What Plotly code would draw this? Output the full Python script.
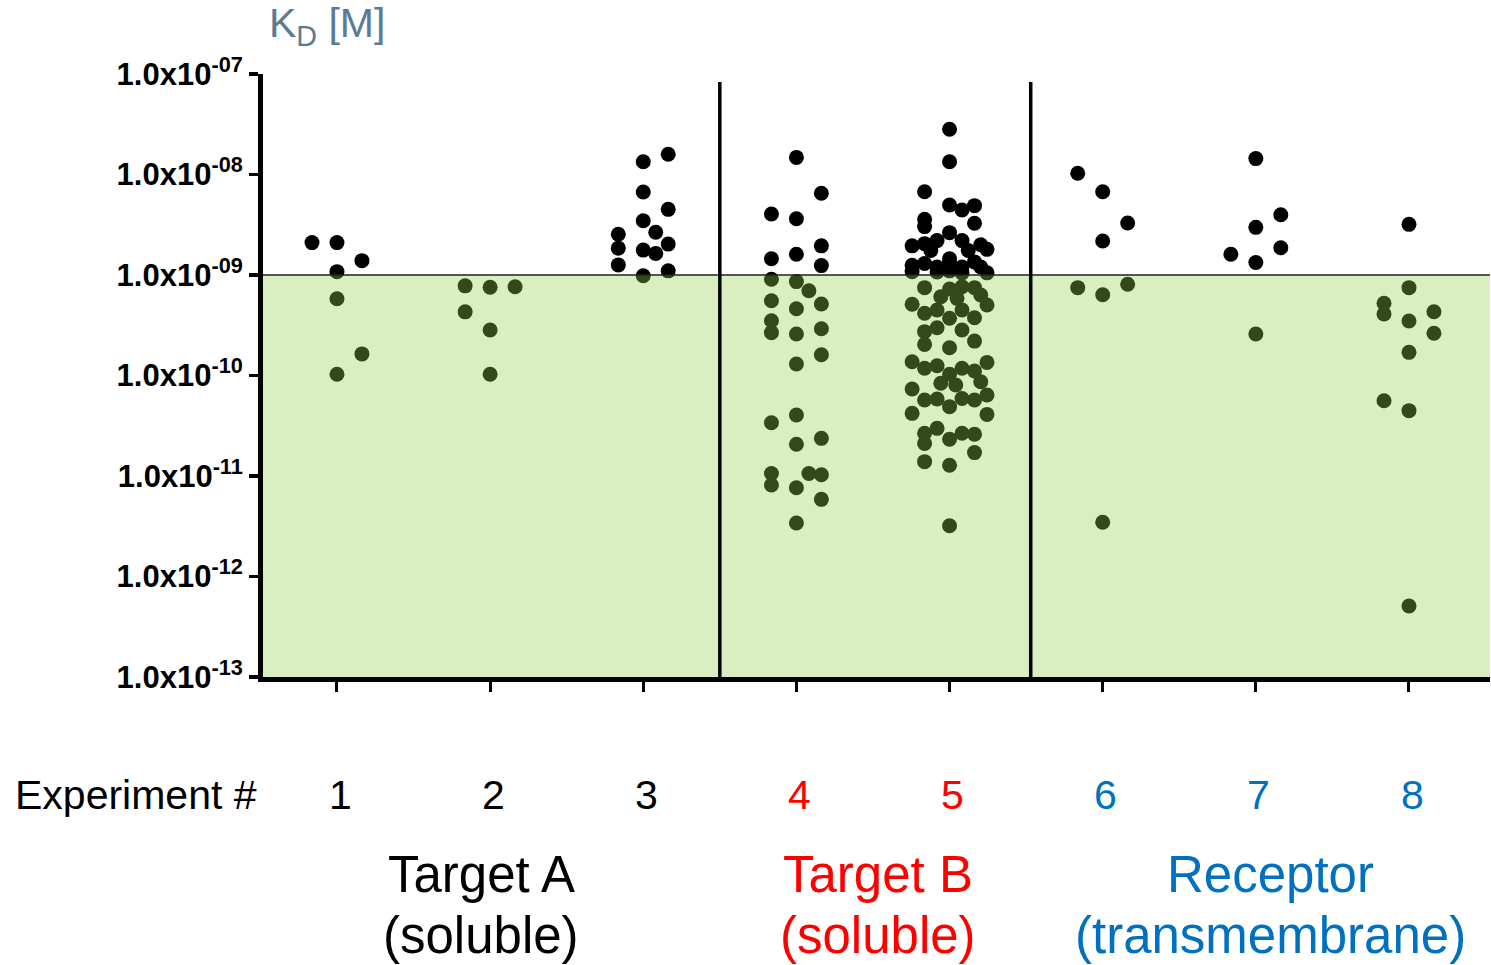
import plotly.graph_objects as go

# ---------------- data ----------------
experiments = [1, 2, 3, 4, 5, 6, 7, 8]
exp_labels = ["1", "2", "3", "4", "5", "6", "7", "8"]
exp_colors = ["black", "black", "black", "#ff0000", "#ff0000", "#0070c0", "#0070c0", "#0070c0"]

group_names = ["Target A", "Target B", "Receptor"]
group_subs = ["(soluble)", "(soluble)", "(transmembrane)"]
group_colors = ["black", "#ff0000", "#0070c0"]

ytick_vals = [1e-7, 1e-8, 1e-9, 1e-10, 1e-11, 1e-12, 1e-13]
ytick_text = ["1.0x10<sup>-07</sup>", "1.0x10<sup>-08</sup>", "1.0x10<sup>-09</sup>",
              "1.0x10<sup>-10</sup>", "1.0x10<sup>-11</sup>", "1.0x10<sup>-12</sup>",
              "1.0x10<sup>-13</sup>"]
y_min_exp, y_max_exp = -13, -7
threshold_exp = -9          # K_D = 1e-9 M

# K_D values [M] per experiment and the swarm column of each point (in dot widths)
kd_1 = [2.1e-9, 2.1e-9, 1.39e-9, 1.08e-9, 5.8e-10, 1.64e-10, 1.03e-10]
col_1 = [-1, 0, 1, 0, 0, 1, 0]

kd_2 = [7.8e-10, 7.55e-10, 7.65e-10, 4.3e-10, 2.84e-10, 1.03e-10]
col_2 = [-1, 0, 1, -1, 0, 0]

kd_3 = [1.34e-8, 1.59e-8, 6.7e-9, 4.5e-9, 3.47e-9, 2.66e-9, 2.54e-9, 1.85e-9,
        1.77e-9, 1.64e-9, 2.03e-9, 1.26e-9, 1.10e-9, 9.84e-10]
col_3 = [0, 1, 0, 1, 0, 0.5, -1, -1, 0, 0.5, 1, -1, 1, 0]

kd_4 = [1.48e-8, 6.5e-9, 4.05e-9, 3.63e-9, 1.95e-9, 1.61e-9, 1.45e-9, 1.24e-9,
        9.06e-10, 8.6e-10, 6.98e-10, 5.55e-10, 4.62e-10, 5.14e-10, 3.51e-10,
        2.67e-10, 2.59e-10, 2.92e-10, 1.30e-10, 1.61e-10, 4.05e-11, 3.39e-11,
        2.07e-11, 2.37e-11, 1.06e-11, 8.13e-12, 1.06e-11, 1.03e-11, 7.65e-12,
        5.86e-12, 3.41e-12]
col_4 = [0, 1, -1, 0, 1, 0, -1, 1,
         -1, 0, 0.5, -1, 0, 1, -1,
         -1, 0, 1, 0, 1, 0, -1,
         0, 1, -1, -1, 0.5, 1, 0,
         1, 0]

kd_5 = [2.82e-8, 1.34e-8, 6.74e-9, 4.97e-9, 4.43e-9, 4.9e-9, 3.58e-9, 3.03e-9,
        3.27e-9, 2.64e-9, 2.2e-9, 2.2e-9, 1.95e-9, 2.05e-9, 2.0e-9, 1.8e-9,
        1.75e-9, 1.75e-9, 1.45e-9, 1.3e-9, 1.25e-9, 1.2e-9, 1.2e-9, 1.35e-9,
        1.2e-9, 1.08e-9, 1.07e-9, 1.1e-9, 1.05e-9, 1.05e-9, 1.3e-9,
        7.48e-10, 7.26e-10, 7.65e-10, 7.48e-10, 6.08e-10, 5.86e-10, 6.33e-10,
        5.11e-10, 4.16e-10, 4.49e-10, 4.49e-10, 5.03e-10, 3.71e-10, 3.76e-10,
        2.73e-10, 2.99e-10, 2.84e-10, 2.2e-10, 2.04e-10, 1.89e-10, 1.37e-10,
        1.18e-10, 1.25e-10, 1.03e-10, 1.18e-10, 1.11e-10, 1.35e-10, 8.36e-11,
        8.04e-11, 8.67e-11, 7.34e-11, 5.7e-11, 5.83e-11, 4.9e-11, 5.9e-11,
        5.7e-11, 6.4e-11, 4.2e-11, 4.1e-11, 2.66e-11, 2.98e-11, 2.11e-11,
        2.32e-11, 2.66e-11, 2.6e-11, 1.71e-11, 1.39e-11, 1.28e-11, 3.2e-12]
col_5 = [0, 0, -1, 0, 0.5, 1, -1, -1,
         1, 0, -0.5, 0.5, -1.5, -1, 1.25, 1.5,
         -0.75, 0.75, 0, -1, -1.5, -0.5, 0.5, 1,
         1.25, -1.5, -0.5, 0, 0.5, 1.5, 0,
         -1, 0, 0.5, 1, -0.35, 0.3, 1.25,
         -1.5, -1, -0.5, 0.5, 1.5, 0, 1,
         -1, -0.5, 0.5, 1, -1, 0, -1.5,
         -1, -0.5, 0, 0.5, 1, 1.5, -0.35,
         0.25, 1.25, -1.5, -1, -0.5, 0, 0.5,
         1, 1.5, -1.5, 1.5, -1, -0.5, -1,
         0, 0.5, 1, 1, -1, 0, 0]

kd_6 = [1.03e-8, 6.74e-9, 3.29e-9, 2.18e-9, 7.48e-10, 6.37e-10, 8.08e-10, 3.46e-12]
col_6 = [-1, 0, 1, 0, -1, 0, 1, 0]

kd_7 = [1.44e-8, 3.98e-9, 2.98e-9, 1.87e-9, 1.61e-9, 1.33e-9, 2.59e-10]
col_7 = [0, 1, 0, 1, -1, 0, 0]

kd_8 = [3.19e-9, 7.48e-10, 5.23e-10, 4.09e-10, 4.31e-10, 3.49e-10, 2.63e-10,
        1.70e-10, 5.61e-11, 4.47e-11, 5.08e-13]
col_8 = [0, 0, -1, -1, 1, 0, 1, 0, -1, 0, 0]

kd_all = [kd_1, kd_2, kd_3, kd_4, kd_5, kd_6, kd_7, kd_8]
col_all = [col_1, col_2, col_3, col_4, col_5, col_6, col_7, col_8]

# ---------------- styling constants ----------------
DOT = 15                 # marker diameter in px
COL_STEP = 0.163         # one dot width in x data units
FONT = "Liberation Sans, Arial, sans-serif"
group_x = [1.943, 4.531, 7.097]
separators = [3.5, 5.53]
sep_top_exp = -7.08


def frac(e):
    """position of a log10 value as a fraction of the y axis height"""
    return (e - y_min_exp) / (y_max_exp - y_min_exp)


fig = go.Figure()

for exp, kds, cols in zip(experiments, kd_all, col_all):
    fig.add_trace(go.Scatter(
        x=[exp + c * COL_STEP for c in cols],
        y=kds,
        mode="markers",
        marker=dict(size=DOT, color="black", line=dict(width=0)),
        showlegend=False,
        hoverinfo="skip",
    ))

shapes = [
    # semi-transparent light-green overlay for the high-affinity region
    dict(type="rect", xref="paper", yref="paper", x0=0, x1=1, y0=0, y1=frac(threshold_exp),
         fillcolor="rgba(146,208,80,0.35)", line=dict(width=0), layer="above"),
    # threshold line
    dict(type="line", xref="paper", yref="paper", x0=0, x1=1,
         y0=frac(threshold_exp), y1=frac(threshold_exp),
         line=dict(color="#222222", width=1.6), layer="above"),
]
for sx in separators:
    shapes.append(dict(type="line", xref="x", yref="paper", x0=sx, x1=sx,
                       y0=0, y1=frac(sep_top_exp),
                       line=dict(color="black", width=3.5), layer="above"))

annotations = []
# y-axis title
annotations.append(dict(text="K<sub>D</sub> [M]", xref="paper", yref="paper",
                        x=0.003, y=1.080, xanchor="left", yanchor="middle", showarrow=False,
                        font=dict(family=FONT, size=41, color="#5b7b93")))
# "Experiment #"
annotations.append(dict(text="Experiment #", xref="paper", yref="paper",
                        x=-0.003, y=-0.196, xanchor="right", yanchor="middle", showarrow=False,
                        font=dict(family=FONT, size=41, color="black")))
for exp, lab, c in zip(experiments, exp_labels, exp_colors):
    annotations.append(dict(text=lab, xref="x", yref="paper", x=exp + 0.02, y=-0.196,
                            xanchor="center", yanchor="middle", showarrow=False,
                            font=dict(family=FONT, size=41, color=c)))
for gx, name, sub, c in zip(group_x, group_names, group_subs, group_colors):
    annotations.append(dict(text=name, xref="x", yref="paper", x=gx, y=-0.328,
                            xanchor="center", yanchor="middle", showarrow=False,
                            font=dict(family=FONT, size=51, color=c)))
    annotations.append(dict(text=sub, xref="x", yref="paper", x=gx, y=-0.428,
                            xanchor="center", yanchor="middle", showarrow=False,
                            font=dict(family=FONT, size=51, color=c)))

fig.update_layout(
    width=1491, height=965,
    margin=dict(l=263, r=1, t=74, b=288),
    paper_bgcolor="white", plot_bgcolor="white",
    shapes=shapes, annotations=annotations,
    xaxis=dict(range=[0.517, 8.529], showgrid=False, zeroline=False,
               tickvals=experiments, showticklabels=False,
               ticks="outside", ticklen=10, tickwidth=3, tickcolor="black",
               showline=True, linewidth=5, linecolor="black"),
    yaxis=dict(type="log", range=[y_min_exp, y_max_exp], showgrid=False, zeroline=False,
               tickvals=ytick_vals, ticktext=ytick_text,
               ticks="outside", ticklen=9, tickwidth=3.5, tickcolor="black",
               showline=True, linewidth=5, linecolor="black",
               tickfont=dict(family=FONT, size=31, color="black", weight="bold")),
)

fig.write_html("out.html",
               config={"displayModeBar": False, "staticPlot": True},
               post_script="document.body.style.margin='0';document.body.style.padding='0';")
